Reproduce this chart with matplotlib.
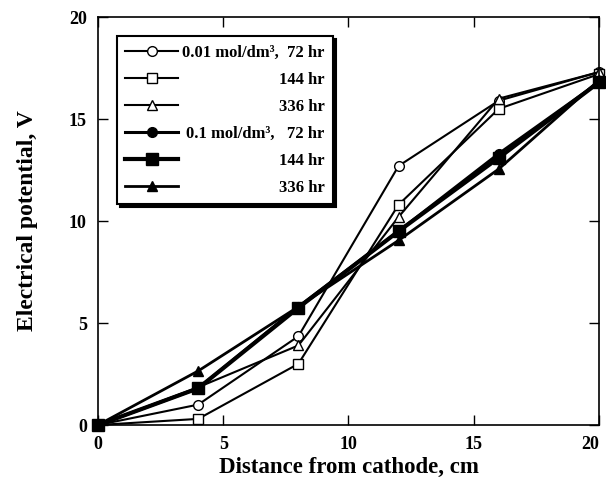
import matplotlib
matplotlib.use("Agg")
import matplotlib.pyplot as plt
import matplotlib.transforms as mtransforms

# ---- data ----
distance = [0, 4, 8, 12, 16, 20]
c001_72 = [0, 1.0, 4.35, 12.7, 15.9, 17.3]
c001_144 = [0, 0.3, 3.0, 10.8, 15.5, 17.2]
c001_336 = [0, 1.85, 3.9, 10.2, 16.0, 17.3]
c01_72 = [0, 1.8, 5.8, 9.5, 13.3, 16.8]
c01_144 = [0, 1.8, 5.75, 9.5, 13.1, 16.8]
c01_336 = [0, 2.65, 5.8, 9.05, 12.55, 16.9]
labels = ["0.01 mol/dm³,  72 hr", "144 hr", "336 hr",
          "0.1 mol/dm³,   72 hr", "144 hr", "336 hr"]
xticks = [0, 5, 10, 15, 20]
yticks = [0, 5, 10, 15, 20]

plt.rcParams['font.family'] = ['Liberation Serif', 'DejaVu Serif']
plt.rcParams['font.weight'] = 'bold'

fig = plt.figure(figsize=(6.06, 4.86), dpi=100)
ax = fig.add_axes([0.1617, 0.1255, 0.8267, 0.8395])

series = [c001_72, c001_144, c001_336, c01_72, c01_144, c01_336]
styles = [
    dict(marker='o', mfc='white', ms=7, lw=1.5),
    dict(marker='s', mfc='white', ms=7, lw=1.5),
    dict(marker='^', mfc='white', ms=7, lw=1.5),
    dict(marker='o', mfc='black', ms=7, lw=2.2),
    dict(marker='s', mfc='black', ms=8, lw=3.0),
    dict(marker='^', mfc='black', ms=7, lw=2.0),
]
for ys, st, lab in zip(series, styles, labels):
    ax.plot(distance, ys, color='black', mec='black', mew=1.0, label=lab,
            clip_on=False, **st)

ax.set_xlim(0, 20)
ax.set_ylim(0, 20)
ax.set_xticks(xticks)
ax.set_yticks(yticks)
ax.tick_params(direction='in', length=7, width=1, top=True, right=True,
               labelsize=13, pad=8)
for lab in ax.get_xticklabels() + ax.get_yticklabels():
    lab.set_fontweight('bold')
# keep the last x tick label inside the canvas
last = ax.get_xticklabels()[-1]
last.set_transform(last.get_transform() +
                   mtransforms.ScaledTranslation(-6 / 72, 0, fig.dpi_scale_trans))
for sp in ax.spines.values():
    sp.set_linewidth(1.2)

ax.set_xlabel("Distance from cathode, cm", fontsize=16.5, fontweight='bold', labelpad=3)
ax.set_ylabel("Electrical potential, V", fontsize=17, fontweight='bold', labelpad=22)

leg = ax.legend(loc='upper left', bbox_to_anchor=(0.038, 0.953), borderaxespad=0,
                fontsize=12, handlelength=3.15, labelspacing=0.66, fancybox=False,
                edgecolor='black', framealpha=1, shadow={'color': 'black', 'alpha': 1},
                borderpad=0.5, handletextpad=0.25)
leg.get_frame().set_linewidth(1.5)
for t in leg.get_texts():
    t.set_fontweight('bold')

fig.canvas.draw()
r = fig.canvas.get_renderer()
widths = [t.get_window_extent(r).width for t in leg.get_texts()]
W = max(widths)
for t, w in zip(leg.get_texts(), widths):
    t.set_x(W - w)

fig.savefig("out.png", dpi=100)
